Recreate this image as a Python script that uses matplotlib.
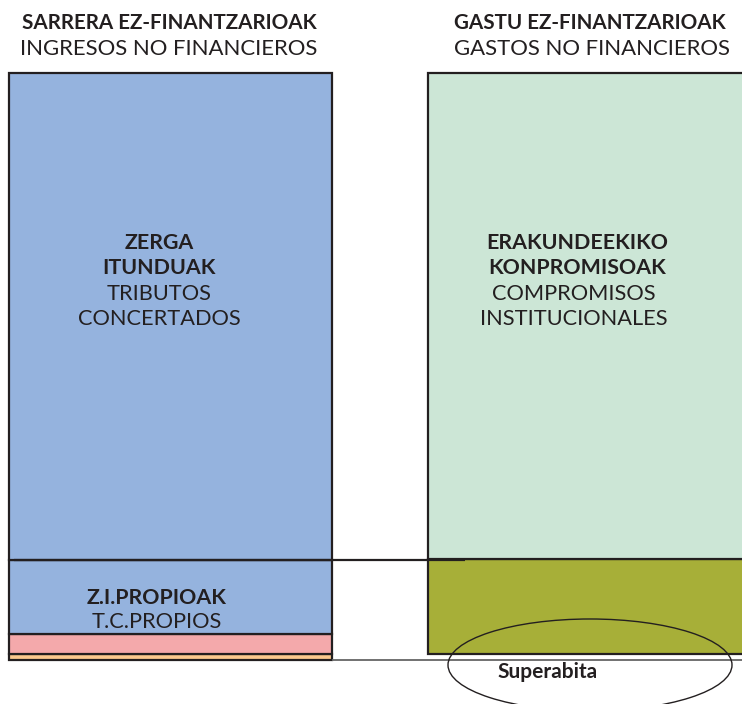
import matplotlib.pyplot as plt
from matplotlib.patches import Ellipse

plt.rcParams['font.family'] = ['Lato', 'DejaVu Sans']

# income (bottom -> top), % of total non-financial income
income_vals = [1.0, 3.4, 12.6, 83.0]
income_cols = ['#fbc98e', '#f4a9ab', '#95b3de', '#95b3de']
# expenses (bottom -> top)
expense_vals = [16.2, 82.8]
expense_cols = ['#a7af38', '#cce6d6']

surplus = sum(income_vals) - sum(expense_vals)

W, H = 742, 704
px_per_unit = 5.87
base_px = 660

f = plt.figure(figsize=(W / 100, H / 100), dpi=100)
ax = f.add_axes([0, 0, 1, 1])
ax.set_xlim(0, W)
ax.set_ylim(-(H - base_px) / px_per_unit, base_px / px_per_unit)
ax.axis('off')

ec = '#231f20'
# left bar
bottom = 0
for v, c in zip(income_vals, income_cols):
    ax.bar(9, v, bottom=bottom, width=323, align='edge', color=c, edgecolor=ec, lw=1.6)
    bottom += v
# right bar
bottom = surplus
for v, c in zip(expense_vals, expense_cols):
    ax.bar(428, v, bottom=bottom, width=340, align='edge', color=c, edgecolor=ec, lw=1.6)
    bottom += v

# divider and base lines
div = sum(income_vals[:3])
ax.hlines(div, 14, 465, color=ec, lw=1.6, zorder=5)
ax.hlines(0, 332, W, color='#666666', lw=1.3, zorder=5)

# superavit ellipse
ax.add_patch(Ellipse((590, -0.85), 284, 92 / px_per_unit, fill=False, ec=ec, lw=1.0, zorder=6))
ax.text(548, -2.1, 'Superabita', ha='center', va='center', fontsize=15, fontweight='bold', color=ec, zorder=7)

def ftext(x, y, s, **kw):
    f.text(x / W, 1 - y / H, s, ha='center', va='center', color=ec, **kw)

# titles
ftext(169, 23, 'SARRERA EZ-FINANTZARIOAK', fontsize=14.9, fontweight='bold')
ftext(169, 49, 'INGRESOS NO FINANCIEROS', fontsize=15.9)
ftext(590, 23, 'GASTU EZ-FINANTZARIOAK', fontsize=14.9, fontweight='bold')
ftext(592, 49, 'GASTOS NO FINANCIEROS', fontsize=15.9)

# inside labels
for (x, y, s, bold) in [(159, 243, 'ZERGA', True), (159, 268, 'ITUNDUAK', True),
                        (159, 294, 'TRIBUTOS', False), (159, 319, 'CONCERTADOS', False),
                        (577, 243, 'ERAKUNDEEKIKO', True), (577, 268, 'KONPROMISOAK', True),
                        (574, 294, 'COMPROMISOS', False), (574, 319, 'INSTITUCIONALES', False),
                        (157, 598, 'Z.I.PROPIOAK', True), (157, 622, 'T.C.PROPIOS', False)]:
    ftext(x, y, s, fontsize=15.4 if bold else 15.7, fontweight='bold' if bold else 'normal')

f.savefig('out.png', dpi=100)
